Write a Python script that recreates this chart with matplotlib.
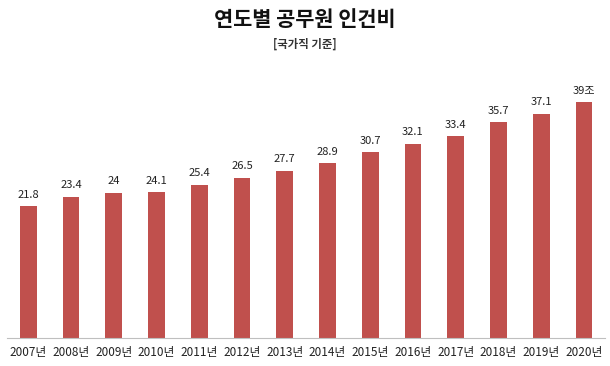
import matplotlib
matplotlib.use("Agg")
import matplotlib.pyplot as plt

plt.rcParams['font.family'] = ['Noto Sans CJK KR', 'DejaVu Sans']

years = ['2007년', '2008년', '2009년', '2010년', '2011년', '2012년', '2013년',
         '2014년', '2015년', '2016년', '2017년', '2018년', '2019년', '2020년']
costs = [21.8, 23.4, 24, 24.1, 25.4, 26.5, 27.7, 28.9, 30.7, 32.1, 33.4, 35.7, 37.1, 39]
value_labels = ['21.8', '23.4', '24', '24.1', '25.4', '26.5', '27.7', '28.9',
                '30.7', '32.1', '33.4', '35.7', '37.1', '39조']

fig = plt.figure(figsize=(6.1, 3.66), dpi=100)
ax = fig.add_axes([0.0113, 0.0765, 0.981, 0.743])

x = range(len(years))
bars = ax.bar(x, costs, width=0.39, color='#C0504D')
for b, lab in zip(bars, value_labels):
    ax.text(b.get_x() + b.get_width() / 2, b.get_height() + 1.1, lab,
            ha='center', va='bottom', fontsize=8, color='#222222')

ax.set_xlim(-0.5, 13.5)
ax.set_ylim(0, 45)
ax.set_xticks(list(x))
ax.set_xticklabels(years, fontsize=8.5, color='#222222')
ax.tick_params(axis='x', length=0, pad=6)
ax.set_yticks([])
for side in ['top', 'right', 'left']:
    ax.spines[side].set_visible(False)
ax.spines['bottom'].set_color('#bfbfbf')

fig.text(0.5, 0.948, '연도별 공무원 인건비', ha='center', va='center',
         fontsize=15, fontweight='bold', color='#111111')
fig.text(0.5, 0.88, '[국가직 기준]', ha='center', va='center',
         fontsize=8.2, fontweight='bold', color='#333333')

fig.savefig('out.png', dpi=100)
